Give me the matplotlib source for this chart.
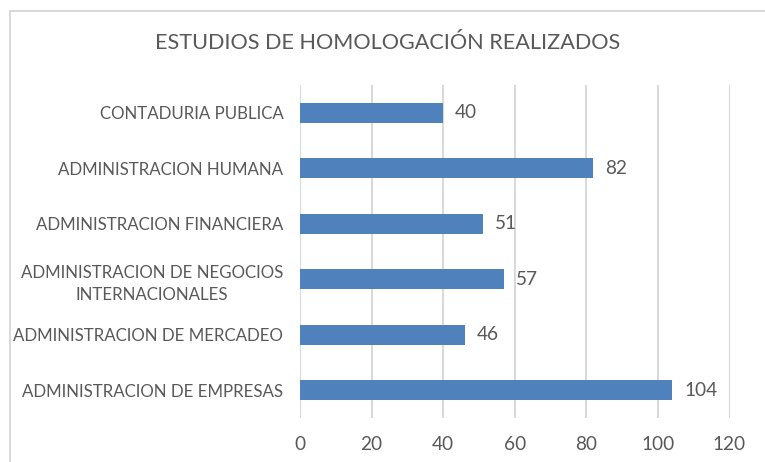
import matplotlib
matplotlib.use("Agg")
import matplotlib.pyplot as plt
from matplotlib.patches import Rectangle

categories = [
    "ADMINISTRACION DE EMPRESAS",
    "ADMINISTRACION DE MERCADEO",
    "ADMINISTRACION DE NEGOCIOS\nINTERNACIONALES",
    "ADMINISTRACION FINANCIERA",
    "ADMINISTRACION HUMANA",
    "CONTADURIA PUBLICA",
]
values = [104, 46, 57, 51, 82, 40]
x_ticks = [0, 20, 40, 60, 80, 100, 120]
title = "ESTUDIOS DE HOMOLOGACIÓN REALIZADOS"

FONT = ["Lato", "DejaVu Sans"]
plt.rcParams["font.family"] = FONT
TXT = "#595959"
GRID = "#D9D9D9"
BAR = "#4F81BD"

W, H = 765, 462
fig = plt.figure(figsize=(W / 100, H / 100), dpi=100)
fig.patch.set_facecolor("white")
renderer = fig.canvas.get_renderer()


def fit_size(text, target_px, base=12.0):
    t = fig.text(0, 0, text, fontsize=base)
    w = t.get_window_extent(renderer).width
    t.remove()
    return base * target_px / w


LBL = fit_size("ADMINISTRACION DE EMPRESAS", 262)
NUM = LBL * 1.12
TTL = fit_size(title, 462)

# chart frame (extends past right/bottom edge)
fig.add_artist(Rectangle((10 / W, -0.1), 1.2, (H - 11) / H + 0.1,
                         transform=fig.transFigure, fill=False,
                         edgecolor=GRID, linewidth=1.4))

ax = fig.add_axes([300 / W, 1 - 418 / H, (729.5 - 300) / W, (418 - 85) / H])
y = list(range(len(categories)))
ax.barh(y, values, height=0.36, color=BAR, zorder=3)
ax.set_xlim(0, 120)
ax.set_ylim(-0.5, len(categories) - 0.5)
ax.set_xticks(x_ticks)
ax.set_xticklabels([str(t) for t in x_ticks], color=TXT, fontsize=NUM)
ax.set_yticks(y)
ax.set_yticklabels(categories, color=TXT, fontsize=LBL, ha="right",
                   multialignment="center", linespacing=1.45)
ax.tick_params(axis="y", length=0, pad=12)
ax.tick_params(axis="x", length=0, pad=13)
ax.grid(axis="x", color=GRID, linewidth=1.5, zorder=0)
for s in ax.spines.values():
    s.set_visible(False)

for yi, v in zip(y, values):
    ax.annotate(str(v), (v, yi), xytext=(12, 0), textcoords="offset pixels",
                va="center", ha="left", color=TXT, fontsize=NUM)

fig.text(388 / W, 1 - 43 / H, title, ha="center", va="center",
         color=TXT, fontsize=TTL)

fig.savefig("out.png", dpi=100)
